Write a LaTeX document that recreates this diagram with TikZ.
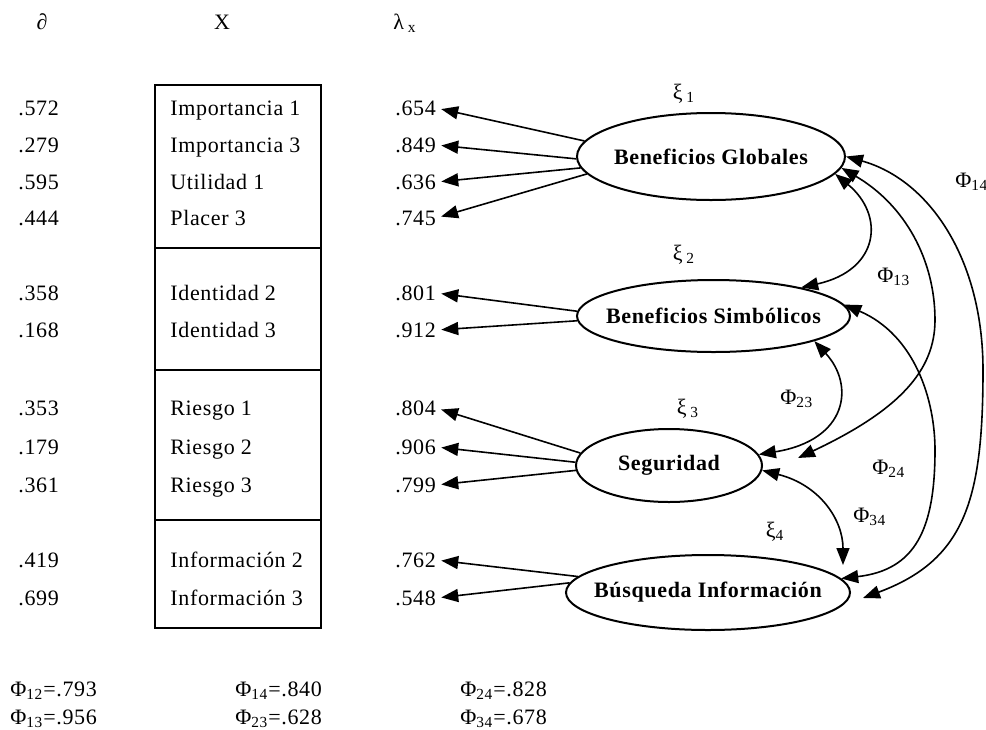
\documentclass[tikz,border=0pt]{standalone}
\usepackage{fontspec}
\setmainfont{Liberation Serif}[LetterSpace=3]
\usetikzlibrary{arrows.meta,positioning,shapes.geometric}
\tikzset{
  txt/.style={inner sep=0pt,text height=7.4pt,text depth=0pt},
  lv/.style={txt,anchor=west},
  lat/.style={ellipse,draw,line width=1pt,inner sep=0pt},
  ltxt/.style={font=\fontsize{11}{13}\selectfont\bfseries},
  loading/.style={-{Triangle[length=8.5pt,width=6.5pt]},line width=0.8pt,shorten >=2.5pt},
  corr/.style={{Triangle[length=8.5pt,width=6.5pt]}-{Triangle[length=8.5pt,width=6.5pt]},line width=0.8pt}
}
\newcommand{\ph}[1]{Φ\textsubscript{#1}}

\begin{document}
\begin{tikzpicture}[x=0.5pt,y=-0.5pt,font=\fontsize{11}{13}\selectfont]
  \useasboundingbox (0,0) rectangle (986,729);
  \node[txt] (hd) at (42,22) {∂};
  \node[txt] (hx) at (222,22) {X};
  \node[txt] (hl) at (405,22) {λ\,\textsubscript{x}};

  \draw[line width=1pt] (155,85) rectangle (321,628);
  \foreach \y in {248,370,520} \draw[line width=1pt] (155,\y) -- (321,\y);

  \foreach \y/\d/\v/\l [count=\i] in {108/.572/Importancia 1/.654, 145/.279/Importancia 3/.849,
      182/.595/Utilidad 1/.636, 218/.444/Placer 3/.745, 293/.358/Identidad 2/.801,
      330/.168/Identidad 3/.912, 408/.353/Riesgo 1/.804, 447/.179/Riesgo 2/.906,
      485/.361/Riesgo 3/.799, 560/.419/Información 2/.762, 598/.699/Información 3/.548}{
    \node[lv] (d\i) at (18,\y) {\d};
    \node[lv] (x\i) at (170,\y) {\v};
    \node[lv] (l\i) at (395,\y) {\l};
  }

  \node[lat,minimum width=134pt,minimum height=43.5pt,label={[ltxt]center:Beneficios Globales}] (BG) at (711,156.5) {};
  \node[lat,minimum width=136.5pt,minimum height=36pt,label={[ltxt]center:Beneficios Simbólicos}] (BS) at (713.5,316) {};
  \node[lat,minimum width=93pt,minimum height=36.5pt,label={[ltxt]center:Seguridad}] (SE) at (669,465.5) {};
  \node[lat,minimum width=142pt,minimum height=37.5pt,label={[ltxt]center:Búsqueda Información}] (BI) at (708,592.5) {};

  \foreach \i/\e/\a in {1/BG/173,2/BG/181,3/BG/185,4/BG/188,5/BS/178,6/BS/182,
      7/SE/172,8/SE/178,9/SE/183,10/BI/173.5,11/BI/176}
    \draw[loading] (\e.\a) -- (l\i.east);

  \coordinate (SE13) at (798,458);
  \coordinate (BI14) at (863,598);
  \coordinate (BI34) at (843,565);

  \draw[corr] (BG.-8) .. controls (885,215) and (880,270) .. (BS.18);
  \draw[corr] (BG.-5) .. controls (905,205) and (935,260) .. (935,320)
    .. controls (935,370) and (900,410) .. (SE13);
  \draw[corr] (BG.0) .. controls (930,180) and (983,260) .. (983,370)
    .. controls (983,500) and (965,560) .. (BI14);
  \draw[corr] (BS.-14) .. controls (855,385) and (848,440) .. (SE.7);
  \draw[corr] (BS.5) .. controls (915,335) and (935,400) .. (935,450)
    .. controls (935,530) and (915,570) .. (BI.6);
  \draw[corr] (SE.-3) .. controls (820,485) and (843,520) .. (BI34);

  \node[txt] (xi1) at (684,92) {ξ\,\textsubscript{1}};
  \node[txt] (xi2) at (684,253) {ξ\,\textsubscript{2}};
  \node[txt] (xi3) at (688,407) {ξ\,\textsubscript{3}};
  \node[txt] (xi4) at (775,530) {ξ\textsubscript{4}};
  \node[lv] (p14) at (955,180) {\ph{14}};
  \node[lv] (p13) at (877,275) {\ph{13}};
  \node[lv] (p23) at (780,397) {\ph{23}};
  \node[lv] (p24) at (872,467) {\ph{24}};
  \node[lv] (p34) at (853,515) {\ph{34}};

  \node[lv] (r12) at (10,689) {\ph{12}=.793};
  \node[lv] (r13) at (10,717) {\ph{13}=.956};
  \node[lv] (r14) at (235,689) {\ph{14}=.840};
  \node[lv] (r23) at (235,717) {\ph{23}=.628};
  \node[lv] (r24) at (460,689) {\ph{24}=.828};
  \node[lv] (r34) at (460,717) {\ph{34}=.678};
\end{tikzpicture}
\end{document}
